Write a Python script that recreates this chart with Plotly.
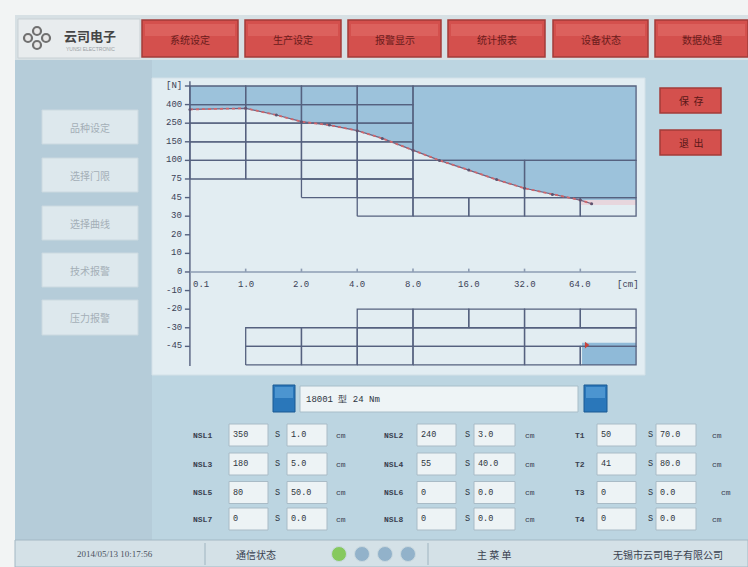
import numpy as np
import plotly.graph_objects as go

W, H = 748, 567
CJK = "Noto Sans CJK SC"
MONO = "Liberation Mono"

# ---------------- data ----------------
MENU_BUTTONS = ["系统设定", "生产设定", "报警显示", "统计报表", "设备状态", "数据处理"]
SIDE_BUTTONS = ["品种设定", "选择门限", "选择曲线", "技术报警", "压力报警"]
ACTION_BUTTONS = ["保  存", "退  出"]

# piecewise axis scales (tick values -> equally spaced positions)
X_SCALE = [0.1, 1.0, 2.0, 4.0, 8.0, 16.0, 32.0, 64.0, 128.0]
X_TICK_TEXT = ["0.1", "1.0", "2.0", "4.0", "8.0", "16.0", "32.0", "64.0", "[cm]"]
Y_SCALE = [-60, -45, -30, -20, -10, 0, 10, 20, 30, 45, 75, 100, 150, 250, 400, 550]
Y_TICK_TEXT = ["", "-45", "-30", "-20", "-10", "0", "10", "20", "30", "45",
               "75", "100", "150", "250", "400", "[N]"]

# measured force / displacement curve
CURVE_CM = [0.1, 1.0, 1.55, 2.0, 3.0, 4.0, 5.8, 8.0, 11.8, 16.0, 24.0, 32.0, 48.0, 64.0, 77.0]
CURVE_N = [361, 370, 316, 262, 240, 210, 168, 127, 100, 87, 74, 60, 50, 43, 40]

# limit windows: (cm from, cm to, N from, N to)
WINDOWS_UPPER = [
    (0.1, 1, 75, 100), (0.1, 1, 100, 150), (0.1, 1, 150, 250), (0.1, 1, 250, 400), (0.1, 1, 400, 550),
    (1, 2, 75, 100), (1, 2, 100, 150), (1, 2, 150, 250), (1, 2, 250, 400), (1, 2, 400, 550),
    (2, 4, 45, 75), (2, 4, 75, 100), (2, 4, 100, 150), (2, 4, 150, 250), (2, 4, 250, 400), (2, 4, 400, 550),
    (4, 8, 30, 45), (4, 8, 45, 75), (4, 8, 75, 100), (4, 8, 100, 150), (4, 8, 150, 250), (4, 8, 250, 400),
    (4, 8, 400, 550),
    (8, 16, 30, 45), (16, 32, 30, 45), (32, 64, 30, 45), (64, 128, 30, 45),
    (8, 32, 45, 100), (32, 128, 45, 100), (8, 128, 100, 550),
]
WINDOWS_LOWER = [
    (4, 8, -30, -20), (8, 16, -30, -20), (16, 32, -30, -20), (32, 64, -30, -20), (64, 128, -30, -20),
    (1, 2, -45, -30), (2, 4, -45, -30), (4, 8, -45, -30), (8, 32, -45, -30), (32, 128, -45, -30),
    (1, 2, -60, -45), (2, 4, -60, -45), (4, 8, -60, -45), (8, 32, -60, -45), (32, 64, -60, -45),
    (64, 128, -60, -45),
]
LOWER_ZONE = (66, 128, -60, -42)
END_BAND = (64, 128, 39, 43)
CURRENT_POINT = (71, -44)

SLIDER_TEXT = "18001 型 24 Nm"
TABLE_LABELS = [["NSL1", "NSL2", "T1"], ["NSL3", "NSL4", "T2"],
                ["NSL5", "NSL6", "T3"], ["NSL7", "NSL8", "T4"]]
TABLE_FORCE = [["350", "240", "50"], ["180", "55", "41"],
               ["80", "0", "0"], ["0", "0", "0"]]
TABLE_DIST = [["1.0", "3.0", "70.0"], ["5.0", "40.0", "80.0"],
              ["50.0", "0.0", "0.0"], ["0.0", "0.0", "0.0"]]
STATUS_DATE = "2014/05/13 10:17:56"
STATUS_COMM = "通信状态"
STATUS_MENU = "主 菜 单"
STATUS_COMPANY = "无锡市云司电子有限公司"
LOGO_TEXT = "云司电子"


def xpos(v):
    return np.interp(v, X_SCALE, np.arange(len(X_SCALE)))


def ypos(v):
    return np.interp(v, Y_SCALE, np.arange(len(Y_SCALE)) - 5)


shapes, annotations = [], []


def rect(x0, y0, x1, y1, fill, line=None, lw=0, layer="below"):
    shapes.append(dict(type="rect", xref="paper", yref="paper",
                       x0=x0 / W, x1=x1 / W, y0=1 - y1 / H, y1=1 - y0 / H,
                       fillcolor=fill, line=dict(color=line or fill, width=lw), layer=layer))


def circ(cx, cy, r, fill, line, lw=1):
    shapes.append(dict(type="circle", xref="paper", yref="paper",
                       x0=(cx - r) / W, x1=(cx + r) / W, y0=1 - (cy + r) / H, y1=1 - (cy - r) / H,
                       fillcolor=fill, line=dict(color=line, width=lw), layer="above"))


def vline(x, y0, y1, color, lw=1):
    shapes.append(dict(type="line", xref="paper", yref="paper",
                       x0=x / W, x1=x / W, y0=1 - y1 / H, y1=1 - y0 / H,
                       line=dict(color=color, width=lw), layer="below"))


def text(x, y, s, size=10, color="#333", family=CJK, xanchor="center"):
    annotations.append(dict(x=x / W, y=1 - y / H, xref="paper", yref="paper", text=s,
                            showarrow=False, xanchor=xanchor, yanchor="middle",
                            font=dict(size=size, color=color, family=family)))


# ---------------- screen frame ----------------
rect(0, 0, W, 15, "#f2f4f4")
rect(0, 0, 15, H, "#f2f4f4")
rect(15, 15, W, 60, "#d7e0e4")
rect(15, 60, 152, 540, "#b5ccd9")

# logo
rect(18, 19, 140, 58, "#e8ecee", "#c9d1d5", 1)
for cx, cy in [(28, 38), (37, 31), (37, 45), (46, 38)]:
    circ(cx, cy, 4.0, "#e8e8e8", "#707070", 2.2)
text(90, 35, "<b>" + LOGO_TEXT + "</b>", 13, "#454545")
text(90, 49, "YUNSI ELECTRONIC", 5, "#9aa0a4", "Liberation Sans")

# top menu buttons
MENU_X = [(142, 238), (245, 341), (348, 441), (448, 545), (553, 648), (655, 748)]
for (a, b), lab in zip(MENU_X, MENU_BUTTONS):
    rect(a, 20, b, 57, "#d4504d", "#a33b39", 1.5)
    rect(a + 3, 24, b - 3, 36, "#dc615d")
    text((a + b) / 2, 39, lab, 10, "#6a1c1c")

# side buttons
SIDE_Y = [(110, 144), (158, 192), (206, 240), (253, 287), (300, 335)]
for (a, b), lab in zip(SIDE_Y, SIDE_BUTTONS):
    rect(42, a, 138, b, "#dde8ed", "#cbd9e0", 1)
    text(90, (a + b) / 2, lab, 10, "#a4afb7")

# action buttons
for (a, b), lab in zip([(88, 113), (130, 155)], ACTION_BUTTONS):
    rect(660, a, 721, b, "#d4504d", "#a33b39", 1.5)
    text(690.5, (a + b) / 2, lab, 10, "#5a1818")

# chart panel
rect(152, 78, 645, 375, "#e2edf2", "#d3e1e8", 1)

# slider
for a, b in [(273, 295), (584, 607)]:
    rect(a, 385, b, 412, "#2a77ba", "#1b5b93", 1)
    rect(a + 2, 387, b - 2, 398, "#4c95d0")
rect(300, 386, 578, 412, "#eef4f6", "#a8bec9", 1)
text(304, 399, SLIDER_TEXT, 9, "#2d3340", MONO, "left")

# parameter table
ROW_Y = [435, 464, 492.5, 519]
GROUPS = [  # label x, box1, S x, box2, cm x
    (202, (229, 268), 277, (287, 327), 341),
    (393, (417, 456), 467, (474, 515), 530),
    (580, (597, 636), 650, (656, 696), 717),
]
for r, cy in enumerate(ROW_Y):
    for g, (lx, b1, sx, b2, cmx) in enumerate(GROUPS):
        text(lx, cy, "<b>" + TABLE_LABELS[r][g] + "</b>", 8, "#3a4150", MONO)
        rect(b1[0], cy - 11, b1[1], cy + 11, "#edf3f5", "#a9bbc6", 1)
        text(b1[0] + 2, cy, TABLE_FORCE[r][g], 8.5, "#2d3340", MONO, "left")
        text(sx, cy, "S", 8.5, "#2d3340", MONO)
        rect(b2[0], cy - 11, b2[1], cy + 11, "#edf3f5", "#a9bbc6", 1)
        text(b2[0] + 2, cy, TABLE_DIST[r][g], 8.5, "#2d3340", MONO, "left")
        text(cmx + (9 if (g == 2 and r == 2) else 0), cy, "cm", 8, "#3a4150", MONO)

# status bar
rect(15, 540, W, H, "#d4e1e7", "#a3b8c4", 1)
vline(205, 543, 565, "#9fb4c0", 1)
vline(428, 543, 565, "#9fb4c0", 1)
text(115, 554, STATUS_DATE, 9, "#4a5260", "Liberation Serif")
text(256, 554, STATUS_COMM, 10, "#3a4150")
for cx, col in zip([339, 362, 385, 408], ["#86c95e", "#92b2ca", "#92b2ca", "#92b2ca"]):
    circ(cx, 554, 7.5, col, "#c9d8df", 1)
text(494, 554, STATUS_MENU, 10, "#3a4150")
text(668, 554, STATUS_COMPANY, 10, "#3a4150")

# ---------------- chart traces ----------------
cx_pos = xpos(CURVE_CM)
cy_pos = ypos(CURVE_N)
mask = np.array(CURVE_CM) <= 64
end_y = float(ypos(43))
fill_x = list(cx_pos[mask]) + [8, 8, 0]
fill_y = list(cy_pos[mask]) + [end_y, 10, 10]

traces = []
traces.append(go.Scatter(x=fill_x, y=fill_y, fill="toself", fillcolor="#9cc2db",
                         mode="lines", line=dict(width=0), hoverinfo="skip"))


def box_trace(box, color):
    x0, x1, y0, y1 = box
    return go.Scatter(x=[xpos(x0), xpos(x1), xpos(x1), xpos(x0), xpos(x0)],
                      y=[ypos(y0), ypos(y0), ypos(y1), ypos(y1), ypos(y0)],
                      fill="toself", fillcolor=color, mode="lines", line=dict(width=0),
                      hoverinfo="skip")


traces.append(box_trace(END_BAND, "#e7d6dd"))
traces.append(box_trace(LOWER_ZONE, "#8fbad8"))

gx, gy = [], []
for x0, x1, y0, y1 in WINDOWS_UPPER + WINDOWS_LOWER:
    gx += [xpos(x0), xpos(x1), xpos(x1), xpos(x0), xpos(x0), None]
    gy += [ypos(y0), ypos(y0), ypos(y1), ypos(y1), ypos(y0), None]
traces.append(go.Scatter(x=gx, y=gy, mode="lines", line=dict(color="#55617f", width=1.3),
                         hoverinfo="skip"))

# axes
tick_pos = np.arange(len(Y_SCALE)) - 5
ax_x, ax_y = [0, 0, None], [10.25, -5.05, None]
for p in tick_pos[1:]:
    ax_x += [-0.09, 0, None]
    ax_y += [p, p, None]
traces.append(go.Scatter(x=ax_x, y=ax_y, mode="lines", line=dict(color="#55617f", width=1.4),
                         hoverinfo="skip"))
zx, zy = [0, 8, None], [0, 0, None]
for p in range(1, 8):
    zx += [p, p, None]
    zy += [0, 0.18, None]
traces.append(go.Scatter(x=zx, y=zy, mode="lines", line=dict(color="#8d9cb3", width=1.6),
                         hoverinfo="skip"))

# curve
traces.append(go.Scatter(x=cx_pos, y=cy_pos, mode="lines", line=dict(color="#6a6383", width=1.2),
                         hoverinfo="skip"))
traces.append(go.Scatter(x=cx_pos, y=cy_pos, mode="lines+markers",
                         line=dict(color="#d2676c", width=1.8, dash="dot"),
                         marker=dict(size=3, color="#5d5470"), hoverinfo="skip"))
traces.append(go.Scatter(x=[xpos(CURRENT_POINT[0])], y=[ypos(CURRENT_POINT[1])], mode="markers",
                         marker=dict(size=6, color="#c8433a", symbol="triangle-right"),
                         hoverinfo="skip"))

# tick labels
for p, lab in zip(tick_pos, Y_TICK_TEXT):
    if lab:
        annotations.append(dict(x=-0.1, y=p, xref="x", yref="y", text=lab, showarrow=False,
                                xanchor="right", yanchor="middle",
                                font=dict(size=9, color="#3b4256", family=MONO)))
for i, lab in enumerate(X_TICK_TEXT):
    xa, xx = "center", float(i)
    if i == 0:
        xa, xx = "left", 0.02
    if i == len(X_TICK_TEXT) - 1:
        xx = 7.86
    annotations.append(dict(x=xx, y=-0.72, xref="x", yref="y", text=lab, showarrow=False,
                            xanchor=xa, yanchor="middle",
                            font=dict(size=9, color="#3b4256", family=MONO)))

fig = go.Figure(traces)
fig.update_layout(
    width=W, height=H, margin=dict(l=0, r=0, t=0, b=0),
    paper_bgcolor="#bcd5e1", plot_bgcolor="rgba(0,0,0,0)",
    showlegend=False, shapes=shapes, annotations=annotations,
    xaxis=dict(domain=[152 / W, 645 / W], range=[-0.68, 8.16], visible=False, fixedrange=True),
    yaxis=dict(domain=[1 - 375 / H, 1 - 78 / H], range=[-5.54, 10.43], visible=False, fixedrange=True),
)
fig.write_html("out.html", config={"displayModeBar": False},
               post_script="document.body.style.margin='0';document.body.style.overflow='hidden';")
